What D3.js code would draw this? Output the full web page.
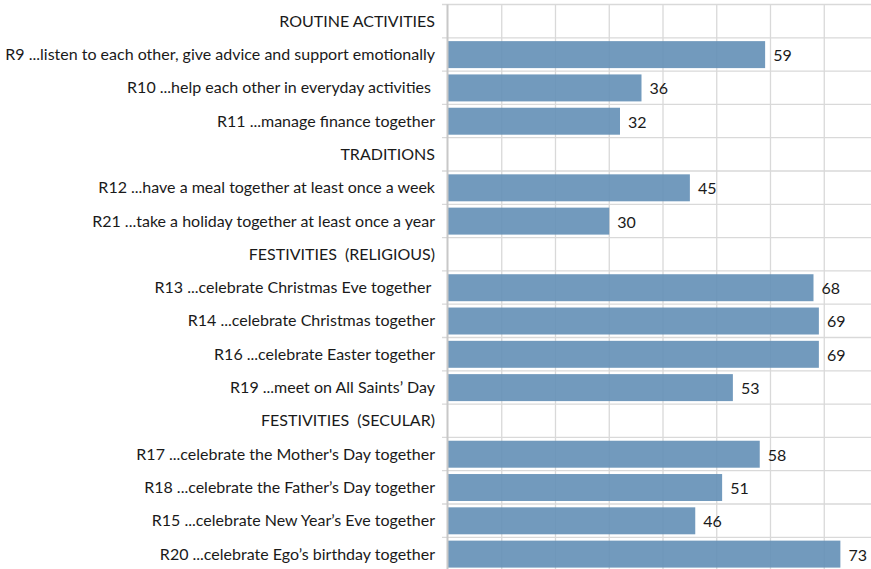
<!DOCTYPE html>
<html>
<head>
<meta charset="utf-8">
<script src="https://cdn.jsdelivr.net/npm/d3@7"></script>
<style>
  body { margin: 0; background: #fff; }
  text { font-family: Lato, "Open Sans", sans-serif; fill: #1a1a1a; white-space: pre; }
</style>
</head>
<body>
<svg id="chart" width="871" height="569"></svg>
<script>
// rows top to bottom; null value = section header
var categories = [
    "ROUTINE ACTIVITIES",
    "R9 ...listen to each other, give advice and support emotionally",
    "R10 ...help each other in everyday activities ",
    "R11 ...manage finance together",
    "TRADITIONS",
    "R12 ...have a meal together at least once a week",
    "R21 ...take a holiday together at least once a year",
    "FESTIVITIES  (RELIGIOUS)",
    "R13 ...celebrate Christmas Eve together ",
    "R14 ...celebrate Christmas together",
    "R16 ...celebrate Easter together",
    "R19 ...meet on All Saints\u2019 Day",
    "FESTIVITIES  (SECULAR)",
    "R17 ...celebrate the Mother's Day together",
    "R18 ...celebrate the Father\u2019s Day together",
    "R15 ...celebrate New Year\u2019s Eve together",
    "R20 ...celebrate Ego\u2019s birthday together"
];
var values = [null, 59, 36, 32, null, 45, 30, null, 68, 69, 69, 53, null, 58, 51, 46, 73];
var xTicks = [0, 10, 20, 30, 40, 50, 60, 70, 80];

var svg = d3.select("#chart");
var plotLeft = 448, plotTop = 4.5, rowH = 33.3;

var x = d3.scaleLinear().domain([0, 80]).range([plotLeft, plotLeft + 430]);
var y = d3.scaleBand().domain(d3.range(categories.length))
    .range([plotTop, plotTop + rowH * categories.length]);

var grid = svg.append("g").attr("stroke", "#d9d9d9").attr("stroke-width", 1.3);

// vertical gridlines
grid.selectAll(".vg").data(xTicks.slice(1)).enter().append("line")
    .attr("x1", function(d) { return x(d); })
    .attr("x2", function(d) { return x(d); })
    .attr("y1", plotTop).attr("y2", 569);

// horizontal row boundaries, with little ticks left of the axis
grid.selectAll(".hg").data(d3.range(categories.length)).enter().append("line")
    .attr("x1", plotLeft - 6).attr("x2", 871)
    .attr("y1", function(d) { return y(d); })
    .attr("y2", function(d) { return y(d); });

// bars
var rows = categories.map(function(c, i) { return { i: i, label: c, v: values[i] }; });
svg.append("g").selectAll("rect")
    .data(rows.filter(function(d) { return d.v !== null; }))
    .enter().append("rect")
    .attr("x", x(0))
    .attr("y", function(d) { return y(d.i) + y.bandwidth() * 0.1; })
    .attr("width", function(d) { return x(d.v) - x(0); })
    .attr("height", y.bandwidth() * 0.81)
    .attr("fill", "#638fb6")
    .attr("fill-opacity", 0.9);

// axis line
svg.append("line")
    .attr("x1", plotLeft - 0.5).attr("x2", plotLeft - 0.5)
    .attr("y1", plotTop).attr("y2", 569)
    .attr("stroke", "#c8c8c8").attr("stroke-width", 2);

// category labels
svg.append("g").selectAll("text")
    .data(rows).enter().append("text")
    .attr("x", 435)
    .attr("y", function(d) { return y(d.i) + y.bandwidth() / 2; })
    .attr("dy", "0.35em")
    .attr("text-anchor", "end")
    .style("font-size", "16px")
    .text(function(d) { return d.label; });

// value labels
svg.append("g").selectAll("text")
    .data(rows.filter(function(d) { return d.v !== null; }))
    .enter().append("text")
    .attr("x", function(d) { return x(d.v) + 8; })
    .attr("y", function(d) { return y(d.i) + y.bandwidth() / 2 + 1; })
    .attr("dy", "0.35em")
    .style("font-size", "16px")
    .text(function(d) { return d.v; });
</script>
</body>
</html>
